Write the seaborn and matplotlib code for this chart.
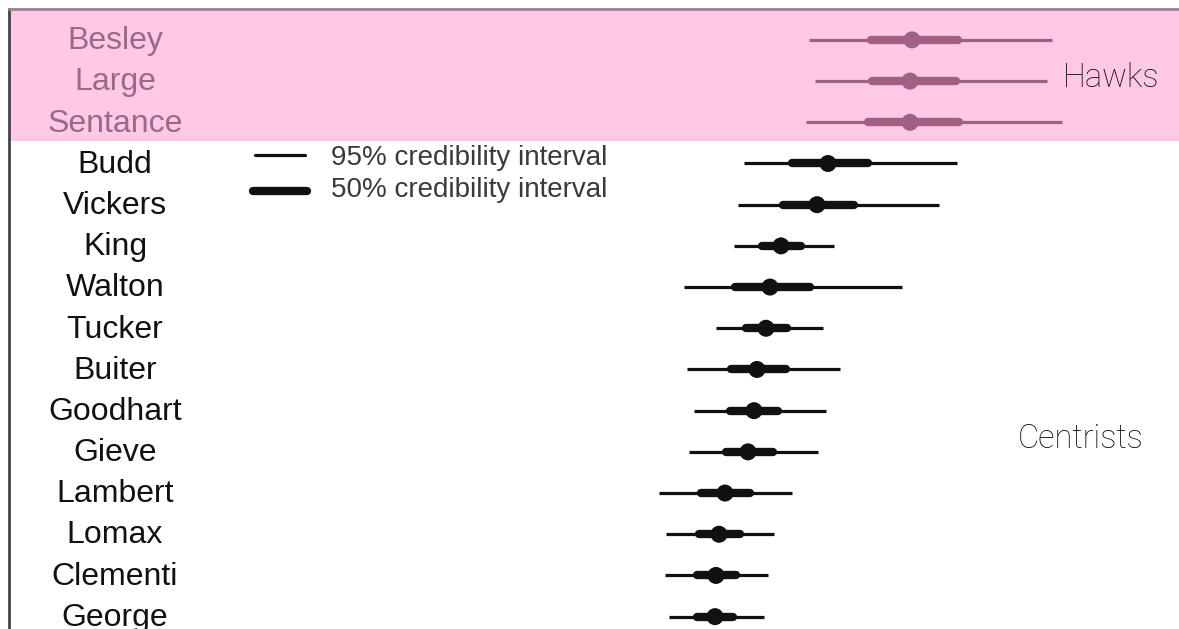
import matplotlib
matplotlib.use("Agg")
import matplotlib.pyplot as plt
import seaborn as sns
import pandas as pd

# Posterior summaries of each MPC member's preference (arbitrary units)
members = ["Besley", "Large", "Sentance", "Budd", "Vickers", "King", "Walton",
           "Tucker", "Buiter", "Goodhart", "Gieve", "Lambert", "Lomax",
           "Clementi", "George"]
lo95 = [0.69, 0.75, 0.66, 0.04, -0.02, -0.06, -0.56, -0.24, -0.53, -0.46,
        -0.51, -0.81, -0.74, -0.75, -0.71]
lo50 = [1.31, 1.32, 1.28, 0.52, 0.43, 0.22, -0.05, 0.06, -0.09, -0.10,
        -0.14, -0.39, -0.41, -0.43, -0.43]
median = [1.72, 1.70, 1.70, 0.88, 0.77, 0.41, 0.30, 0.26, 0.17, 0.14,
          0.08, -0.15, -0.21, -0.24, -0.25]
hi50 = [2.18, 2.16, 2.19, 1.28, 1.14, 0.61, 0.70, 0.47, 0.46, 0.38,
        0.33, 0.10, 0.00, -0.04, -0.07]
hi95 = [3.12, 3.07, 3.22, 2.17, 1.99, 0.94, 1.62, 0.83, 1.00, 0.86,
        0.78, 0.52, 0.34, 0.28, 0.24]
groups = ["Hawks"] * 3 + ["Centrists"] * 12

df = pd.DataFrame({"member": members, "lo95": lo95, "lo50": lo50,
                   "median": median, "hi50": hi50, "hi95": hi95,
                   "group": groups})
df["row"] = range(len(df))

HAWK = "#a06083"
HAWK_TEXT = "#9a6888"
PINK = "#ffc8e4"
DARK = "#111111"
palette = {"Hawks": HAWK, "Centrists": DARK}

sns.set_theme(style="white")
plt.rcParams["font.family"] = ["Liberation Sans", "DejaVu Sans"]

W, H = 1179, 629
fig = plt.figure(figsize=(W / 100, H / 100), dpi=100)
ax = fig.add_axes([9 / W, 0, (W - 9) / W, (H - 9) / H])

ax.set_xlim(-7.31, 4.39)
ax.set_ylim(14.3, -0.75)

# Hawks band
ax.axhspan(-0.75, 2.45, color=PINK, zorder=0, lw=0)

# Credibility intervals
for _, r in df.iterrows():
    c = palette[r["group"]]
    ax.hlines(r["row"], r["lo95"], r["hi95"], color=c, lw=2.3, zorder=2)
    ax.hlines(r["row"], r["lo50"], r["hi50"], color=c, lw=6.0, zorder=3,
              capstyle="round")

# Posterior medians
sns.scatterplot(data=df, x="median", y="row", hue="group", palette=palette,
                s=150, edgecolor="none", legend=False, zorder=4, ax=ax)

# Member names inside the plot area
for _, r in df.iterrows():
    col = HAWK_TEXT if r["group"] == "Hawks" else DARK
    ax.text(0.0906, r["row"] + 0.03, r["member"],
            transform=ax.get_yaxis_transform(),
            ha="center", va="center", fontsize=23, color=col)

# Group labels
ax.text(0.901, 0.92, "Hawks", transform=ax.get_yaxis_transform(),
        ha="left", va="center", fontsize=23.5, color="#111111",
        family=["Roboto", "DejaVu Sans"], fontweight="light")
ax.text(0.862, 9.7, "Centrists", transform=ax.get_yaxis_transform(),
        ha="left", va="center", fontsize=23.5, color="#111111",
        family=["Roboto", "DejaVu Sans"], fontweight="light")

# Key for the two interval widths
tr = ax.get_yaxis_transform()
ax.plot([0.2103, 0.2530], [2.79, 2.79], transform=tr, color=DARK, lw=2.3)
ax.plot([0.2085, 0.2547], [3.67, 3.67], transform=tr, color=DARK, lw=6.0,
        solid_capstyle="round")
ax.text(0.2752, 2.86, "95% credibility interval", transform=tr,
        ha="left", va="center", fontsize=20, color="#3a3a3a")
ax.text(0.2752, 3.64, "50% credibility interval", transform=tr,
        ha="left", va="center", fontsize=20, color="#3a3a3a")

ax.set_xticks([])
ax.set_yticks([])
ax.set_xlabel("")
ax.set_ylabel("")
for side in ["right", "bottom"]:
    ax.spines[side].set_visible(False)
ax.spines["left"].set_color("#444444")
ax.spines["left"].set_linewidth(2)
ax.spines["top"].set_color("#9a8090")
ax.spines["top"].set_linewidth(2)

fig.savefig("out.png", dpi=100)
